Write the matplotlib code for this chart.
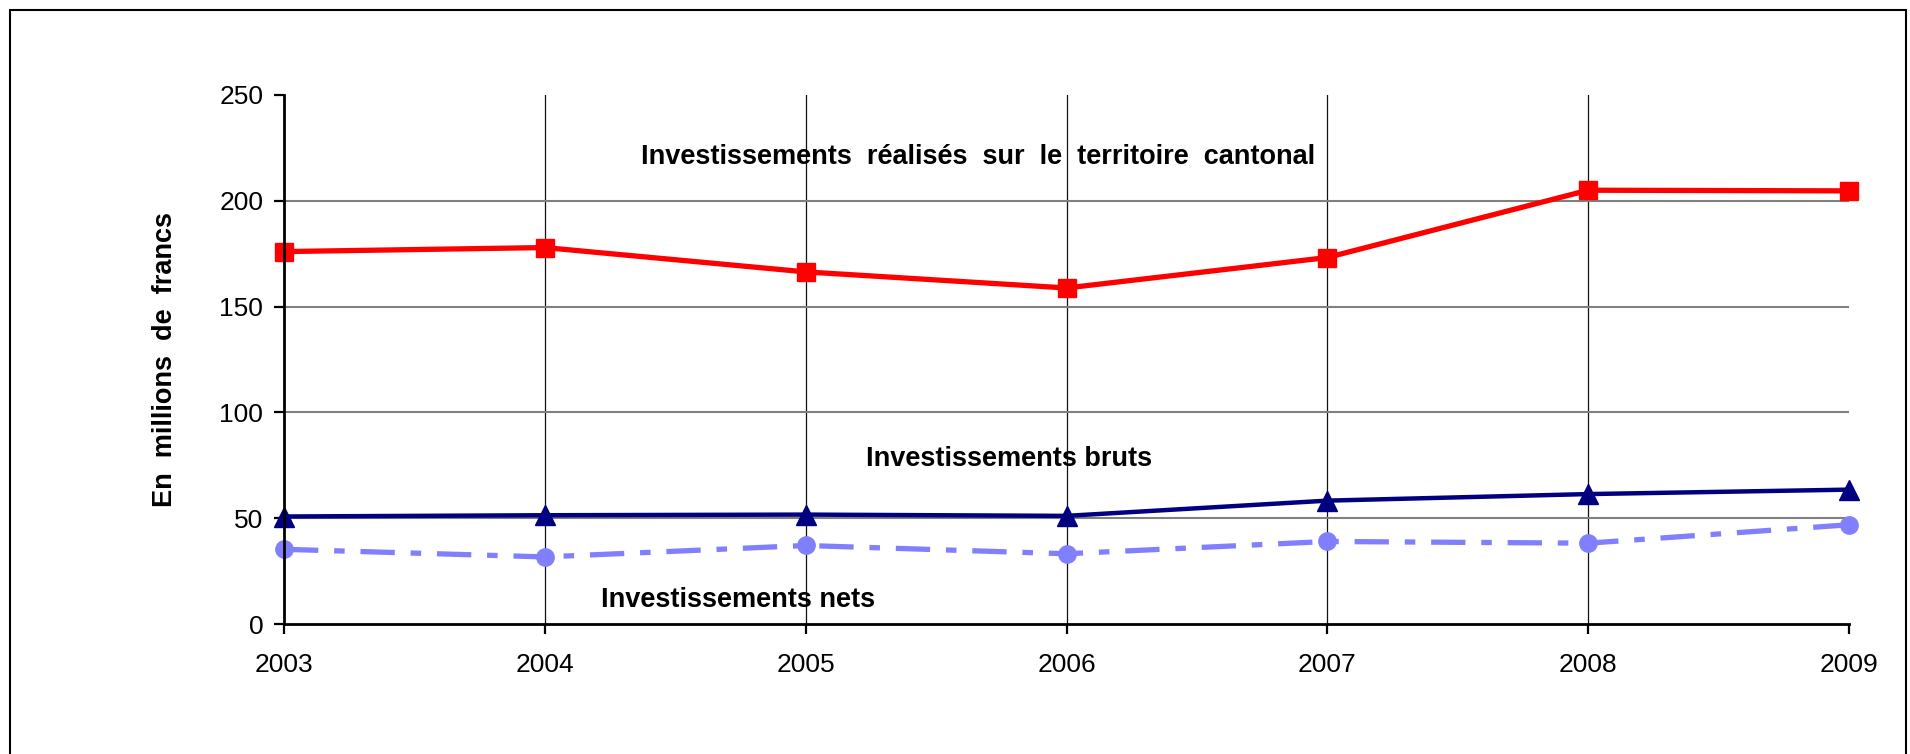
import matplotlib
matplotlib.use("Agg")
import matplotlib.pyplot as plt
from matplotlib.patches import Rectangle

years = [2003, 2004, 2005, 2006, 2007, 2008, 2009]
territoire = [176.0, 177.9, 166.4, 158.8, 173.2, 205.0, 204.7]
bruts = [50.8, 51.4, 51.7, 51.1, 58.3, 61.4, 63.5]
nets = [35.3, 31.7, 37.1, 33.2, 39.0, 38.2, 46.9]
yticks = [0, 50, 100, 150, 200, 250]

plt.rcParams['font.family'] = ['Liberation Sans', 'DejaVu Sans']

fig = plt.figure(figsize=(19.1, 7.54), dpi=100)
ax = fig.add_axes([284/1910, 1-624/754, (1849-284)/1910, (624-95)/754])

ax.plot(years, territoire, color='#FF0000', lw=3.8, marker='s', ms=13,
        mfc='#FF0000', mec='#FF0000', zorder=5, clip_on=False)
ax.plot(years, bruts, color='#000080', lw=3.2, marker='^', ms=14.5,
        mfc='#000080', mec='#000080', zorder=5, clip_on=False)
ax.plot(years, nets, color='#8080FF', lw=3.8, marker='o', ms=12.5,
        mfc='#8080FF', mec='#8080FF', zorder=4, clip_on=False,
        dashes=(6.5, 3, 2, 3))

ax.set_xlim(years[0], years[-1])
ax.set_ylim(yticks[0], yticks[-1])
ax.set_xticks(years)
ax.set_xticklabels([str(y) for y in years])
ax.set_yticks(yticks)

for s in ['top', 'right']:
    ax.spines[s].set_visible(False)
for s in ['left', 'bottom']:
    ax.spines[s].set_linewidth(2.0)
    ax.spines[s].set_color('black')
    ax.spines[s].set_zorder(6)

ax.tick_params(axis='both', direction='out', length=7, width=1.6,
               labelsize=19, colors='black')
ax.tick_params(axis='x', pad=14)
ax.tick_params(axis='y', pad=8)

ax.yaxis.grid(True, color='#808080', lw=1.5, zorder=1)
ax.xaxis.grid(True, color='#111111', lw=0.9, zorder=1)
ax.set_axisbelow(True)
ygl = ax.yaxis.get_gridlines()
ygl[0].set_visible(False)
ygl[-1].set_visible(False)
xgl = ax.xaxis.get_gridlines()
xgl[0].set_visible(False)
xgl[-1].set_visible(False)

ax.set_ylabel('En  millions  de  francs', fontsize=19.5, fontweight='bold', labelpad=30)

ax.text(2005.66, 220.7, 'Investissements  réalisés  sur  le  territoire  cantonal',
        fontsize=19.5, fontweight='bold', ha='center', va='center', zorder=7)
ax.text(2005.78, 78, 'Investissements bruts', fontsize=19.5, fontweight='bold',
        ha='center', va='center', zorder=7)
ax.text(2004.74, 11.3, 'Investissements nets', fontsize=19.5, fontweight='bold',
        ha='center', va='center', zorder=7)

rect = Rectangle((10/1910, -0.05), (1906-10)/1910, 1.05 - 10/754,
                 transform=fig.transFigure, fill=False, edgecolor='black',
                 lw=1.5, zorder=0)
fig.patches.append(rect)

fig.savefig('out.png', dpi=100)
